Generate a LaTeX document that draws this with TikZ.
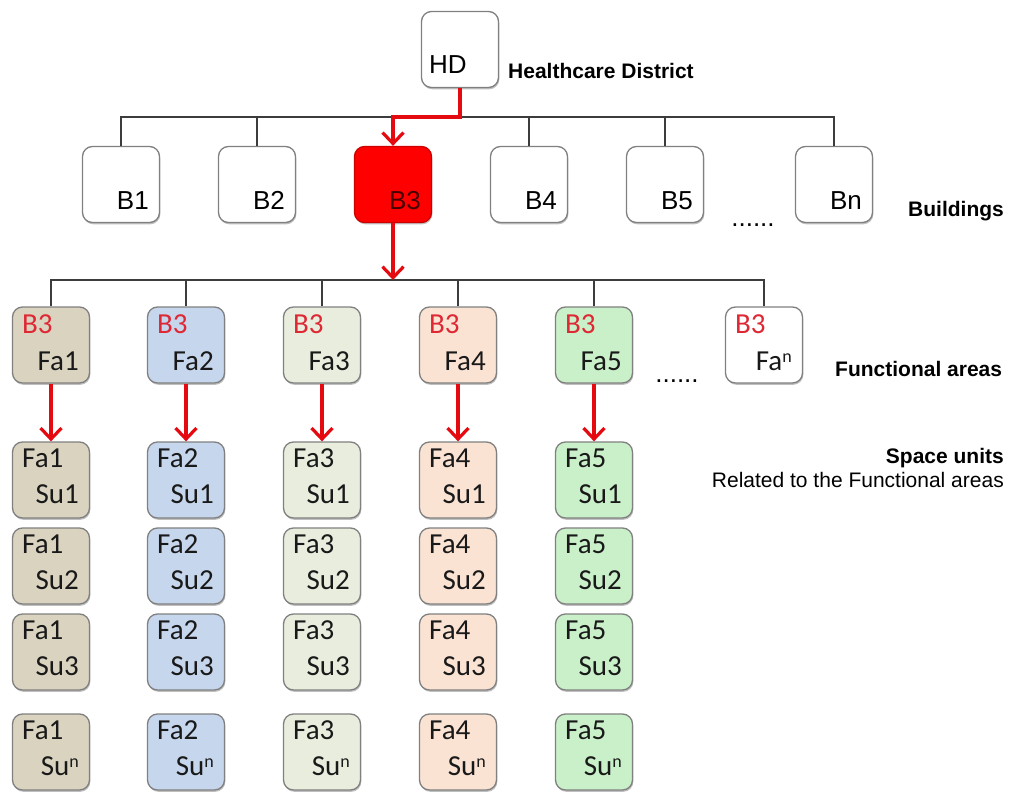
\documentclass[tikz,border=0pt]{standalone}
\usepackage{fontspec}
\setmainfont{Liberation Sans}
\newfontfamily\calfont{Carlito}
\usetikzlibrary{arrows.meta,shadows}

\definecolor{boxgray}{RGB}{128,128,128}
\definecolor{busgray}{RGB}{60,60,60}
\definecolor{arrowred}{RGB}{228,10,16}
\definecolor{labelred}{RGB}{222,40,52}
\definecolor{hotred}{RGB}{255,0,0}
\definecolor{hotredline}{RGB}{205,0,0}
\definecolor{darkmaroon}{RGB}{70,0,0}
\definecolor{fa1}{RGB}{217,211,192}
\definecolor{fa2}{RGB}{198,214,237}
\definecolor{fa3}{RGB}{233,237,222}
\definecolor{fa4}{RGB}{251,227,212}
\definecolor{fa5}{RGB}{201,240,200}

% small raised "n" used as an index
\newcommand{\supn}{\raisebox{8pt}{\fontsize{18}{20}\selectfont n}}

\begin{document}
\begin{tikzpicture}[x=1pt,y=-1pt,
  box/.style={draw=boxgray,line width=1.3pt,rounded corners=10pt,
    minimum width=77pt,minimum height=76pt,inner sep=0pt,fill=white,
    drop shadow={shadow xshift=0.8pt,shadow yshift=-1.8pt,opacity=0.25,fill=black}},
  bus/.style={draw=busgray,line width=1.3pt},
  redarrow/.style={draw=arrowred,line width=4pt,
    -{Straight Barb[length=11pt,width=21pt,line width=3.2pt]}},
  big/.style={font=\fontsize{26}{30}\selectfont,inner sep=0pt},
  head/.style={font=\bfseries\fontsize{21}{25}\selectfont,inner sep=0pt},
  note/.style={font=\fontsize{21}{25}\selectfont,inner sep=0pt},
  cal/.style={font=\calfont\fontsize{29}{33}\selectfont,inner sep=0pt,text=black!90},
  calred/.style={cal,text=labelred},
]
\useasboundingbox (0,0) rectangle (1010,792);

% bus lines
\coordinate (bus1) at (0,117);
\coordinate (bus2) at (0,280);

% top level
\node[box] (hd) at (460,49.5) {};
\node[big,anchor=base west] (hdt) at (429,74) {HD};
\node[head,anchor=base west] (hdlabel) at (508,79) {Healthcare District};

% buildings
\foreach \n/\x in {1/121,2/257,4/529,5/665,n/834} {
  \node[box] (b\n) at (\x,184.5) {};
  \node[big,anchor=base east] (b\n t) at (\x+28,209) {B\n};
}
\node[box,fill=hotred,draw=hotredline] (b3) at (393,184.5) {};
\node[big,anchor=base east,text=darkmaroon] (b3t) at (421,209) {B3};
\node[big,anchor=base] (dots1) at (753,226) {......};
\node[head,anchor=base west] (blabel) at (908,216) {Buildings};

\draw[bus] (b1.north) |- (bn.north |- bus1) -- (bn.north);
\foreach \n in {2,4,5} \draw[bus] (b\n.north) -- (b\n.north |- bus1);
\draw[redarrow] (hd.south) -- (hd.south |- bus1) -| (b3.north);

% functional areas and their space units
\foreach \i/\x in {1/51,2/186,3/322,4/458,5/594} {
  \node[box,fill=fa\i] (fa\i) at (\x,345) {};
  \node[calred,anchor=base west] (fa\i b) at (\x-29,333) {B3};
  \node[cal,anchor=base east] (fa\i t) at (\x+28,370) {Fa\i};
  \foreach \r/\y/\s in {1/480/1,2/566/2,3/652/3,n/752/\supn} {
    \node[box,fill=fa\i] (su\i\r) at (\x,\y) {};
    \node[cal,anchor=base west] (su\i\r a) at (\x-29,\y-13) {Fa\i};
    \node[cal,anchor=base east] (su\i\r b) at (\x+28,\y+23) {Su\s};
  }
}
\node[box] (fan) at (764,345) {};
\node[calred,anchor=base west] (fanb) at (735,333) {B3};
\node[cal,anchor=base east] (fant) at (792,370) {Fa\supn};
\node[big,anchor=base] (dots2) at (677,382) {......};
\node[head,anchor=base west] (falabel) at (835,376) {Functional areas};

\draw[bus] (fa1.north) |- (fan.north |- bus2) -- (fan.north);
\foreach \i in {2,3,4,5} \draw[bus] (fa\i.north) -- (fa\i.north |- bus2);
\draw[redarrow] (b3.south) -- (b3.south |- bus2);
\foreach \i in {1,2,3,4,5} \draw[redarrow] (fa\i.south) -- (su\i1.north);

% space units legend
\node[head,anchor=base east] (sulabel) at (1004,463) {Space units};
\node[note,anchor=base east] (sunote) at (1004,487) {Related to the Functional areas};
\end{tikzpicture}
\end{document}
